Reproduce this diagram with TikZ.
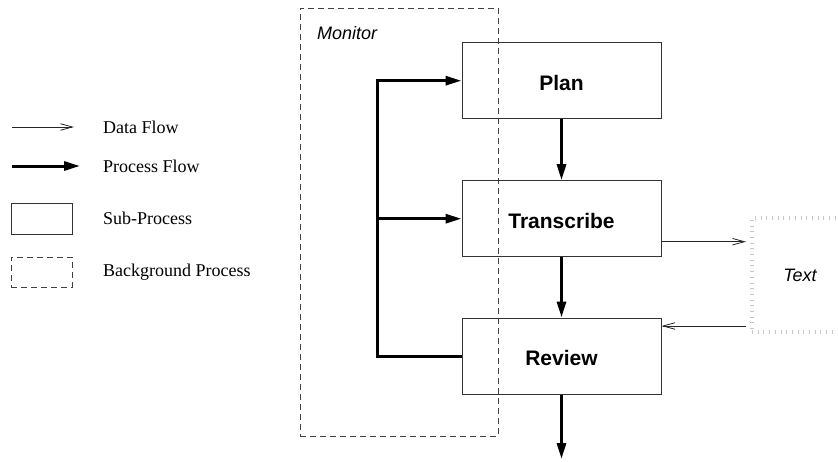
\documentclass[tikz,border=0pt]{standalone}
\usepackage{fontspec}
\setmainfont{Liberation Serif}
\setsansfont{Liberation Sans}
\usetikzlibrary{arrows.meta,calc}

\begin{document}
\begin{tikzpicture}[x=1pt, y=-1pt,
    subproc/.style={draw=black!80, line width=1pt, minimum width=199pt, minimum height=76pt,
      inner sep=0pt, text height=19pt, text depth=0pt, font=\fontsize{21}{24}\selectfont\sffamily\bfseries},
    bgproc/.style={draw=black!75, line width=1pt, dash pattern=on 6pt off 4pt, inner sep=0pt},
    dataflow/.style={draw=black!85, line width=0.8pt, -{Straight Barb[length=12pt,width=6.5pt]}},
    procflow/.style={line width=3pt, -{Triangle[length=16pt,width=9pt]}},
    legtext/.style={anchor=west, inner sep=0pt, font=\fontsize{18}{21}\selectfont}]
  \useasboundingbox (0,0) rectangle (838,461);

  % legend
  \coordinate (dfa) at (12,127);
  \coordinate (dfb) at (74,127);
  \coordinate (pfa) at (12,166);
  \coordinate (pfb) at (80,166);
  \draw[dataflow] (dfa) -- (dfb);
  \draw[procflow] (pfa) -- (pfb);
  \node[draw=black!80, line width=1pt, minimum width=61pt, minimum height=31pt, inner sep=0pt] (legsub) at (41.5,218.5) {};
  \node[bgproc, minimum width=61pt, minimum height=30pt] (legbg) at (41.5,272) {};
  \node[legtext] (dflabel) at (103,127) {Data Flow};
  \node[legtext] (pflabel) at (103,166) {Process Flow};
  \node[legtext] (sublabel) at (103,218) {Sub-Process};
  \node[legtext] (bglabel) at (103,272) {Background Process};

  % monitor runs behind the loop
  \node[bgproc, minimum width=198pt, minimum height=428pt] (monitor) at (399,222) {};
  \node[anchor=west, inner sep=0pt, font=\fontsize{18}{21}\selectfont\sffamily\itshape] (monlabel) at (317,33) {Monitor};

  % the three stages
  \node[subproc] (plan) at (561.5,80.7) {Plan};
  \node[subproc] (trans) at (561.5,218.7) {Transcribe};
  \node[subproc] (review) at (561.5,356) {Review};
  \coordinate (done) at (561.5,459);

  \node[draw=black!22, line width=4pt, dash pattern=on 1pt off 4.7pt, minimum width=96pt, minimum height=114pt,
    font=\fontsize{18}{21}\selectfont\sffamily\itshape] (text) at (800,275) {Text};

  \draw[procflow] (plan) -- (trans);
  \draw[procflow] (trans) -- (review);
  \draw[procflow] (review) -- (done);

  % feedback from review
  \coordinate (fbbot) at (377,356);
  \coordinate (fbmid) at (377,218.7);
  \coordinate (fbtop) at (377,80.7);
  \draw[procflow] (review.west) -- (fbbot) -- (fbtop) -- (plan.west);
  \draw[procflow] (fbmid) -- (trans.west);

  % text in and out
  \draw[dataflow, shorten >=4pt] ([yshift=-23pt]trans.east) -- ([yshift=-23pt]trans.east -| text.west);
  \draw[dataflow, shorten <=4pt] ([yshift=30pt]review.east -| text.west) -- ([yshift=30pt]review.east);
\end{tikzpicture}
\end{document}
